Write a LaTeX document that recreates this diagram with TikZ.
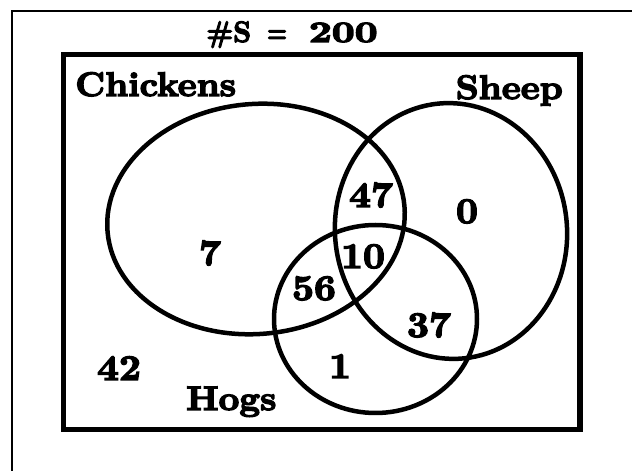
\documentclass[tikz,border=0pt]{standalone}
\usepackage{fontspec}
\usepackage{graphicx}
\newfontfamily\fat{lmroman10-bold.otf}[FakeBold=4,FakeStretch=1.06]
\newfontfamily\fattitle{lmroman10-bold.otf}[FakeBold=4]
\tikzset{
  frameline/.style={line width=2.5pt},
  boxline/.style={line width=5.5pt},
  setline/.style={line width=4.5pt},
  num/.style={anchor=base,inner sep=0pt,font=\fat\fontsize{36}{36}\selectfont},
  setlabel/.style={inner sep=0pt,font=\fat\fontsize{34}{34}\selectfont},
}
\begin{document}
\begin{tikzpicture}[x=1pt,y=1pt]
\useasboundingbox (0,0) rectangle (632,471);
\fill[white] (0,0) rectangle (632,471);
% outer frame (cut off at right and bottom)
\coordinate (fTR) at (640,460);
\coordinate (fTL) at (12,460);
\coordinate (fBL) at (12,-8);
\draw[frameline] (fTR) -- (fTL) -- (fBL);
% universe box
\node[draw,boxline,minimum width=516.5pt,minimum height=375pt,inner sep=0pt] (U) at (321.75,229) {};
% title
\node[anchor=base,inner sep=0pt,font=\fattitle\fontsize{29.5}{29.5}\selectfont] (title) at (292,429)
  {\scalebox{0.95}[1]{\#S}\hspace{16pt}\scalebox{0.75}[1]{=}\hspace{22pt}\scalebox{1.35}[1]{200}};
% sets
\draw[setline,rotate around={5:(256,252)}] (256,252) ellipse [x radius=149, y radius=115];
\draw[setline,rotate around={6:(451,240)}] (451,240) ellipse [x radius=116, y radius=128];
\draw[setline] (375.5,152) ellipse [x radius=101.5, y radius=94];
% labels
\node[setlabel,anchor=base west] (chickens) at (75,375) {Chickens};
\node[setlabel,anchor=base east] (sheep) at (563,372) {Sheep};
\node[setlabel,anchor=base west] (hogs) at (186,61) {Hogs};
% region counts
\node[num] (n47) at (371,264) {47};
\node[num] (n0) at (467,248) {0};
\node[num] (n7) at (210,206) {7};
\node[num] (n10) at (363,203) {10};
\node[num] (n56) at (314,171) {56};
\node[num] (n37) at (429,134) {37};
\node[num] (n42) at (119,91) {42};
\node[num] (n1) at (340,93) {1};
\end{tikzpicture}
\end{document}
